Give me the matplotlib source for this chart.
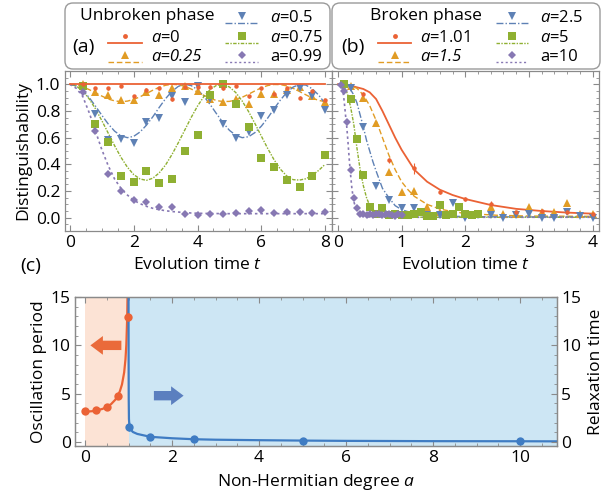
import numpy as np
import matplotlib
matplotlib.use('Agg')
import matplotlib.pyplot as plt
from matplotlib.lines import Line2D
from matplotlib.patches import FancyBboxPatch
from matplotlib.transforms import IdentityTransform

plt.rcParams['font.family'] = ['Open Sans', 'DejaVu Sans']
plt.rcParams['mathtext.fontset'] = 'custom'
plt.rcParams['mathtext.it'] = 'Open Sans:italic'
plt.rcParams['mathtext.rm'] = 'Open Sans'

# ---------------- data: panel (a) unbroken phase ----------------
t_fit_a = [0.0, 0.2, 0.4, 0.6, 0.8, 1.0, 1.2, 1.4, 1.6, 1.8, 2.0, 2.2, 2.4, 2.6, 2.8, 3.0,
           3.2, 3.4, 3.6, 3.8, 4.0, 4.2, 4.4, 4.6, 4.8, 5.0, 5.2, 5.4, 5.6, 5.8, 6.0,
           6.2, 6.4, 6.6, 6.8, 7.0, 7.2, 7.4, 7.6, 7.8, 8.0]
fit_a0 = [1.0, 1.0]
t_fit_a0 = [0.0, 8.0]
fit_a025 = [1.000, 0.995, 0.981, 0.961, 0.936, 0.912, 0.890, 0.876, 0.870, 0.874, 0.887,
            0.907, 0.931, 0.956, 0.978, 0.993, 1.000, 0.997, 0.985, 0.965, 0.942, 0.917,
            0.895, 0.878, 0.871, 0.872, 0.883, 0.903, 0.926, 0.951, 0.974, 0.991, 0.999,
            0.998, 0.988, 0.970, 0.946, 0.921, 0.897, 0.879, 0.871]
fit_a05 = [1.000, 0.988, 0.954, 0.902, 0.837, 0.768, 0.703, 0.649, 0.614, 0.600, 0.610,
           0.643, 0.694, 0.757, 0.827, 0.893, 0.948, 0.985, 1.000, 0.991, 0.960, 0.910,
           0.847, 0.778, 0.712, 0.655, 0.618, 0.600, 0.607, 0.638, 0.686, 0.747, 0.817,
           0.883, 0.940, 0.980, 0.999, 0.994, 0.966, 0.919, 0.856]
fit_a075 = [1.000, 0.987, 0.951, 0.892, 0.817, 0.728, 0.634, 0.540, 0.453, 0.379, 0.323,
            0.290, 0.280, 0.296, 0.336, 0.396, 0.474, 0.563, 0.657, 0.751, 0.837, 0.909,
            0.962, 0.993, 0.999, 0.980, 0.938, 0.875, 0.796, 0.706, 0.612, 0.519, 0.434,
            0.363, 0.312, 0.285, 0.282, 0.292, 0.318, 0.355, 0.400]
fit_a099 = [1.00, 0.97, 0.91, 0.79, 0.65, 0.51, 0.39, 0.29, 0.22, 0.17, 0.13, 0.105,
            0.085, 0.07, 0.06, 0.052, 0.046, 0.042, 0.038, 0.035, 0.033, 0.032, 0.031,
            0.031, 0.030, 0.030, 0.030, 0.030, 0.030, 0.030, 0.030, 0.030, 0.030, 0.030,
            0.030, 0.030, 0.030, 0.030, 0.030, 0.030, 0.030]

t_exp_a = [0.4, 0.8, 1.2, 1.6, 2.0, 2.4, 2.8, 3.2, 3.6, 4.0, 4.4, 4.8, 5.2, 5.6, 6.0,
           6.4, 6.8, 7.2, 7.6, 8.0]
exp_a0 = [1.0, 0.97, 0.97, 0.99, 0.91, 0.96, 0.97, 0.89, 0.98, 0.98, 0.98, 0.97, 0.99,
          0.91, 0.97, 0.93, 0.97, 0.90, 0.95, 0.88]
exp_a025 = [1.0, 0.94, 0.92, 0.88, 0.88, 0.94, 0.92, 0.97, 0.99, 0.95, 0.89, 0.87, 0.89,
            0.85, 0.93, 0.93, 0.96, 0.98, 0.91, 0.87]
exp_a05 = [0.99, 0.78, 0.58, 0.59, 0.56, 0.72, 0.75, 0.91, 0.87, 0.99, 0.89, 0.70, 0.60,
           0.64, 0.76, 0.81, 0.92, 0.97, 0.91, 0.81]
exp_a075 = [0.99, 0.70, 0.57, 0.31, 0.27, 0.35, 0.26, 0.29, 0.50, 0.62, 0.92, 1.0, 0.85,
            0.68, 0.45, 0.38, 0.28, 0.23, 0.31, 0.47]
exp_a099 = [0.94, 0.65, 0.33, 0.20, 0.13, 0.12, 0.08, 0.08, 0.025, 0.02, 0.03, 0.03,
            0.035, 0.05, 0.055, 0.035, 0.045, 0.04, 0.035, 0.045]

# ---------------- data: panel (b) broken phase ----------------
t_fit_b101 = [0, 0.2, 0.4, 0.5, 0.6, 0.7, 0.8, 0.9, 1.0, 1.2, 1.4, 1.6, 1.8, 2.0, 2.4, 2.8,
              3.2, 3.6, 4.0]
fit_b101 = [1.0, 0.99, 0.965, 0.94, 0.89, 0.80, 0.70, 0.60, 0.51, 0.36, 0.27, 0.21, 0.17,
            0.14, 0.095, 0.066, 0.05, 0.038, 0.03]
t_fit_b15 = [0, 0.1, 0.2, 0.3, 0.4, 0.5, 0.6, 0.7, 0.8, 0.9, 1.0, 1.1, 1.2, 1.4, 1.6, 1.8,
             2.0, 2.5, 3.0, 4.0]
fit_b15 = [1.0, 0.998, 0.99, 0.97, 0.92, 0.84, 0.73, 0.60, 0.47, 0.36, 0.27, 0.21, 0.16,
           0.10, 0.065, 0.045, 0.032, 0.018, 0.012, 0.01]
t_fit_b25 = [0, 0.05, 0.1, 0.15, 0.2, 0.25, 0.3, 0.35, 0.4, 0.45, 0.5, 0.55, 0.6, 0.7, 0.8,
             0.9, 1.0, 1.2, 1.5, 2.0, 3.0, 4.0]
fit_b25 = [1.0, 0.999, 0.995, 0.98, 0.96, 0.92, 0.86, 0.77, 0.68, 0.58, 0.50, 0.42, 0.35,
           0.22, 0.15, 0.09, 0.06, 0.03, 0.015, 0.008, 0.005, 0.005]
t_fit_b5 = [0, 0.05, 0.1, 0.15, 0.2, 0.25, 0.3, 0.35, 0.4, 0.45, 0.5, 0.6, 0.7, 0.8, 1.0,
            1.5, 2.0, 3.0, 4.0]
fit_b5 = [1.0, 0.995, 0.98, 0.93, 0.83, 0.70, 0.52, 0.36, 0.24, 0.15, 0.09, 0.035, 0.015,
          0.008, 0.004, 0.003, 0.003, 0.003, 0.003]
t_fit_b10 = [0, 0.02, 0.04, 0.06, 0.08, 0.1, 0.12, 0.14, 0.16, 0.18, 0.2, 0.22, 0.25, 0.3,
             0.35, 0.4, 0.5, 1.0, 2.0, 4.0]
fit_b10 = [1.0, 0.999, 0.995, 0.985, 0.95, 0.87, 0.77, 0.68, 0.56, 0.43, 0.32, 0.22, 0.12,
           0.05, 0.02, 0.01, 0.005, 0.003, 0.003, 0.003]

t_exp_b101 = [0.4, 0.8, 1.2, 1.6, 2.0, 2.4, 2.8, 3.2, 3.6, 4.0]
exp_b101 = [0.93, 0.43, 0.37, 0.19, 0.14, 0.10, 0.04, 0.05, 0.04, 0.03]
err_b101 = [0.01, 0.02, 0.04, 0.01, 0.015, 0.025, 0.01, 0.01, 0.01, 0.01]
t_exp_b15 = [0.2, 0.4, 0.6, 0.8, 1.0, 1.2, 1.4, 1.6, 1.8, 2.0, 2.2, 2.4, 2.6, 2.8, 3.0,
             3.2, 3.4, 3.6, 3.8, 4.0]
exp_b15 = [0.99, 0.90, 0.71, 0.34, 0.19, 0.20, 0.08, 0.045, 0.03, 0.03, 0.03, 0.08, 0.03,
           0.03, 0.08, 0.045, 0.045, 0.107, 0.03, 0.027]
t_exp_b25 = [0.2, 0.4, 0.6, 0.8, 1.0, 1.2, 1.4, 1.6, 1.8, 2.0, 2.2, 2.4, 2.6, 2.8, 3.0,
             3.2, 3.4, 3.6, 3.8, 4.0]
exp_b25 = [0.97, 0.68, 0.24, 0.13, 0.07, 0.07, 0.02, 0.02, 0.107, 0.0, 0.02, 0.02, 0.0,
           0.02, 0.027, 0.0, 0.0, 0.045, 0.01, 0.0]
t_exp_b5 = [0.1, 0.2, 0.3, 0.4, 0.5, 0.6, 0.7, 0.8, 0.9, 1.0, 1.1, 1.2, 1.3, 1.4, 1.5,
            1.6, 1.7, 1.8, 1.9, 2.0, 2.1, 2.2]
exp_b5 = [1.0, 0.89, 0.59, 0.32, 0.08, 0.03, 0.075, 0.02, 0.03, 0.02, 0.02, 0.03, 0.04,
          0.015, 0.015, 0.095, 0.02, 0.027, 0.08, 0.027, 0.02, 0.03]
t_exp_b10 = [0.05, 0.1, 0.15, 0.2, 0.25, 0.3, 0.35, 0.4, 0.45, 0.5, 0.55, 0.6, 0.65, 0.7,
             0.75, 0.8, 0.85, 0.9, 0.95, 1.0]
exp_b10 = [0.995, 0.95, 0.72, 0.36, 0.15, 0.07, 0.03, 0.025, 0.02, 0.03, 0.02, 0.025, 0.03,
           0.02, 0.025, 0.03, 0.02, 0.015, 0.025, 0.02]

# ---------------- data: panel (c) ----------------
a_period = [0.0, 0.25, 0.5, 0.75, 0.99]
period = [3.2, 3.3, 3.65, 4.8, 12.9]
period_err = [0.1, 0.1, 0.1, 0.15, 0.4]
a_period_fit = [0.0, 0.2, 0.4, 0.5, 0.6, 0.7, 0.8, 0.85, 0.9, 0.93, 0.95, 0.97, 0.98]
period_fit = [3.14, 3.21, 3.43, 3.63, 3.93, 4.40, 5.24, 5.96, 7.2, 8.55, 10.06, 12.9, 15.8]
a_relax = [1.01, 1.5, 2.5, 5.0, 10.0]
relax = [1.6, 0.55, 0.3, 0.15, 0.12]
relax_err = [0.5, 0.05, 0.03, 0.02, 0.02]
a_relax_fit = [1.001, 1.002, 1.005, 1.01, 1.02, 1.05, 1.1, 1.2, 1.5, 2.0, 2.5, 3.0, 4.0,
               5.0, 6.0, 8.0, 10.0, 10.9]
relax_fit = [15.5, 9.0, 4.5, 2.4, 1.7, 1.3, 1.05, 0.85, 0.55, 0.4, 0.3, 0.25, 0.2, 0.16,
             0.13, 0.1, 0.09, 0.08]

C_RED = '#EB6235'
C_ORA = '#E19C24'
C_BLU = '#5E81B5'
C_GRN = '#8FB032'
C_PUR = '#8778B3'
LS_ORA = (0, (4, 2))
LS_BLU = (0, (5, 1.5, 1, 1.5))
LS_GRN = (0, (2.5, 1, 1, 1))
LS_PUR = (0, (1.5, 1.8))

W, H = 613, 493
fig = plt.figure(figsize=(W / 100, H / 100), dpi=100)


def fx(px):
    return px / W


def fy(py):
    return 1 - py / H


def axes_px(l, t, r, b):
    return fig.add_axes([l / W, 1 - b / H, (r - l) / W, (b - t) / H])


GRAY = '#8a8a8a'


def style(ax):
    for s in ax.spines.values():
        s.set_color(GRAY)
        s.set_linewidth(0.9)
    ax.tick_params(which='both', direction='in', top=True, right=True, color=GRAY,
                   labelsize=12.5, pad=3)
    ax.tick_params(which='major', length=4, width=0.8)
    ax.tick_params(which='minor', length=2, width=0.6)


MK = dict(ls='none', markeredgewidth=0)

# ---- panel (a)
axa = axes_px(64.5, 71, 331.5, 231)
style(axa)
axa.plot(t_fit_a0, fit_a0, color=C_RED, lw=1.3, zorder=3)
axa.plot(t_fit_a, fit_a025, color=C_ORA, lw=1.0, ls=LS_ORA)
axa.plot(t_fit_a, fit_a05, color=C_BLU, lw=1.0, ls=LS_BLU)
axa.plot(t_fit_a, fit_a075, color=C_GRN, lw=1.0, ls=LS_GRN)
axa.plot(t_fit_a, fit_a099, color=C_PUR, lw=1.2, ls=LS_PUR)
axa.errorbar(t_exp_a, exp_a0, yerr=0.012, color=C_RED, marker='o', ms=3.2, ls='none',
             elinewidth=0.8, capsize=1.2, markeredgewidth=0)
axa.plot(t_exp_a, exp_a025, marker='^', ms=5.5, color=C_ORA, **MK)
axa.plot(t_exp_a, exp_a05, marker='v', ms=5.5, color=C_BLU, **MK)
axa.plot(t_exp_a, exp_a075, marker='s', ms=5.2, color=C_GRN, **MK)
axa.plot(t_exp_a, exp_a099, marker='D', ms=3.8, color=C_PUR, **MK)
axa.set_xlim(-0.17, 8.2)
axa.set_ylim(-0.1, 1.1)
axa.set_xticks([0, 2, 4, 6, 8])
axa.set_xticks(np.arange(0, 8.01, 0.5), minor=True)
axa.set_yticks([0.0, 0.2, 0.4, 0.6, 0.8, 1.0])
axa.set_yticklabels(['0.0', '0.2', '0.4', '0.6', '0.8', '1.0'])
axa.set_yticks(np.arange(-0.1, 1.101, 0.05), minor=True)
axa.set_ylabel('Distinguishability', fontsize=12.5, labelpad=3)
axa.set_xlabel('Evolution time $t$', fontsize=12.5, labelpad=4)

# ---- panel (b)
axb = axes_px(331.5, 71, 599, 231)
style(axb)
axb.plot(t_fit_b101, fit_b101, color=C_RED, lw=1.3)
axb.plot(t_fit_b15, fit_b15, color=C_ORA, lw=1.0, ls=LS_ORA)
axb.plot(t_fit_b25, fit_b25, color=C_BLU, lw=1.0, ls=LS_BLU)
axb.plot(t_fit_b5, fit_b5, color=C_GRN, lw=1.0, ls=LS_GRN)
axb.plot(t_fit_b10, fit_b10, color=C_PUR, lw=1.2, ls=LS_PUR)
axb.errorbar(t_exp_b101, exp_b101, yerr=err_b101, color=C_RED, marker='o', ms=3.2,
             ls='none', elinewidth=0.8, capsize=1.2, markeredgewidth=0)
axb.plot(t_exp_b15, exp_b15, marker='^', ms=5.5, color=C_ORA, **MK)
axb.plot(t_exp_b25, exp_b25, marker='v', ms=5.5, color=C_BLU, **MK)
axb.plot(t_exp_b5, exp_b5, marker='s', ms=5.2, color=C_GRN, **MK)
axb.plot(t_exp_b10, exp_b10, marker='D', ms=3.8, color=C_PUR, **MK)
axb.set_xlim(-0.1, 4.1)
axb.set_ylim(-0.1, 1.1)
axb.set_xticks([0, 1, 2, 3, 4])
axb.set_xticks(np.arange(0, 4.01, 0.2), minor=True)
axb.set_yticks([0.0, 0.2, 0.4, 0.6, 0.8, 1.0])
axb.set_yticks(np.arange(-0.1, 1.101, 0.05), minor=True)
axb.set_yticklabels([])
axb.set_xlabel('Evolution time $t$', fontsize=12.5, labelpad=4)

# ---- panel (c)
axc = axes_px(75, 297, 557, 446)
style(axc)
axc.tick_params(which='both', right=False)
axc.axvspan(0, 1.0, color='#fce3d5', lw=0, zorder=0)
axc.axvspan(1.0, 11.0, color='#cde6f4', lw=0, zorder=0)
axc.plot(a_period_fit, period_fit, color=C_RED, lw=1.6, zorder=3)
axc.errorbar(a_period, period, yerr=period_err, color=C_RED, marker='o', ms=6,
             ls='none', elinewidth=1, capsize=1.5, markeredgewidth=0, zorder=4)
axc.plot(a_relax_fit, relax_fit, color='#3f7cc3', lw=1.6, zorder=3)
axc.errorbar(a_relax, relax, yerr=relax_err, color='#3f7cc3', marker='o', ms=6,
             ls='none', elinewidth=1, capsize=1.5, markeredgewidth=0, zorder=4)
axc.set_xlim(-0.23, 10.85)
axc.set_ylim(-0.4, 15)
axc.set_xticks([0, 2, 4, 6, 8, 10])
axc.set_xticks(np.arange(0, 10.8, 0.5), minor=True)
axc.set_yticks([0, 5, 10, 15])
axc.set_yticks(np.arange(0, 15.01, 1), minor=True)
axc.set_ylabel('Oscillation period', fontsize=12.5, labelpad=3)
axc.set_xlabel('Non-Hermitian degree $a$', fontsize=12.5, labelpad=4)
ARW = 'simple,head_length=0.6,head_width=0.9,tail_width=0.45'
axc.annotate('', xy=(0.06, 10), xytext=(0.9, 10),
             arrowprops=dict(arrowstyle=ARW, color='#ea6a3a', lw=0, mutation_scale=15),
             zorder=5)
axc.annotate('', xy=(2.33, 4.8), xytext=(1.52, 4.8),
             arrowprops=dict(arrowstyle=ARW, color='#5b7fbf', lw=0, mutation_scale=15),
             zorder=5)
axc2 = axc.twinx()
axc2.set_ylim(-0.4, 15)
axc2.set_yticks([0, 5, 10, 15])
axc2.set_yticks(np.arange(0, 15.01, 1), minor=True)
for s in axc2.spines.values():
    s.set_color(GRAY)
    s.set_linewidth(0.9)
axc2.tick_params(which='both', direction='in', color=GRAY, labelsize=12.5, pad=3)
axc2.tick_params(which='major', length=4, width=0.8)
axc2.tick_params(which='minor', length=2, width=0.6)
axc2.set_ylabel('Relaxation time', fontsize=12.5, labelpad=5)

# ---- legend boxes
for (l, r) in [(65, 330), (332, 600)]:
    box = FancyBboxPatch((l, H - 69), r - l, 66,
                         boxstyle='round,pad=0,rounding_size=8',
                         transform=IdentityTransform(), fc='white', ec='#9a9a9a', lw=1.0)
    fig.add_artist(box)


def entry(x0, x1, yc, color, ls, marker, ms, lw=1.0):
    fig.add_artist(Line2D([fx(x0), fx(x1)], [fy(yc + 4.5), fy(yc + 4.5)], color=color,
                          ls=ls, lw=lw, transform=fig.transFigure))
    fig.add_artist(Line2D([fx((x0 + x1) / 2)], [fy(yc - 2.5)], marker=marker, ms=ms,
                          color=color, ls='none', markeredgewidth=0,
                          transform=fig.transFigure))


def label(x, yc, s, italic=False, size=12):
    fig.text(fx(x), fy(yc), s, fontsize=size, ha='left', va='center',
             style='italic' if italic else 'normal')


rows = [18, 38, 57]
# panel (a) legend
label(80, 16, 'Unbroken phase', size=12.5)
label(72, 47, '(a)', size=14)
entry(108, 142, rows[1], C_RED, '-', 'o', 3.5, lw=1.3)
label(151, rows[1], '$a$=0')
entry(108, 142, rows[2], C_ORA, LS_ORA, '^', 6)
label(151, rows[2], 'a=0.25', italic=True)
entry(225, 258, rows[0], C_BLU, LS_BLU, 'v', 6)
label(270, rows[0], '$a$=0.5')
entry(225, 258, rows[1], C_GRN, LS_GRN, 's', 5.5)
label(270, rows[1], '$a$=0.75')
entry(225, 258, rows[2], C_PUR, LS_PUR, 'D', 4)
label(270, rows[2], 'a=0.99')
# panel (b) legend
label(370, 16, 'Broken phase', size=12.5)
label(341, 47, '(b)', size=14)
entry(378, 411, rows[1], C_RED, '-', 'o', 3.5, lw=1.3)
label(420, rows[1], '$a$=1.01')
entry(378, 411, rows[2], C_ORA, LS_ORA, '^', 6)
label(420, rows[2], 'a=1.5', italic=True)
entry(496, 528, rows[0], C_BLU, LS_BLU, 'v', 6)
label(540, rows[0], '$a$=2.5')
entry(496, 528, rows[1], C_GRN, LS_GRN, 's', 5.5)
label(540, rows[1], '$a$=5')
entry(496, 528, rows[2], C_PUR, LS_PUR, 'D', 4)
label(540, rows[2], 'a=10')

fig.text(fx(20), fy(266), '(c)', fontsize=14, ha='left', va='center')

fig.savefig('out.png', dpi=100)
